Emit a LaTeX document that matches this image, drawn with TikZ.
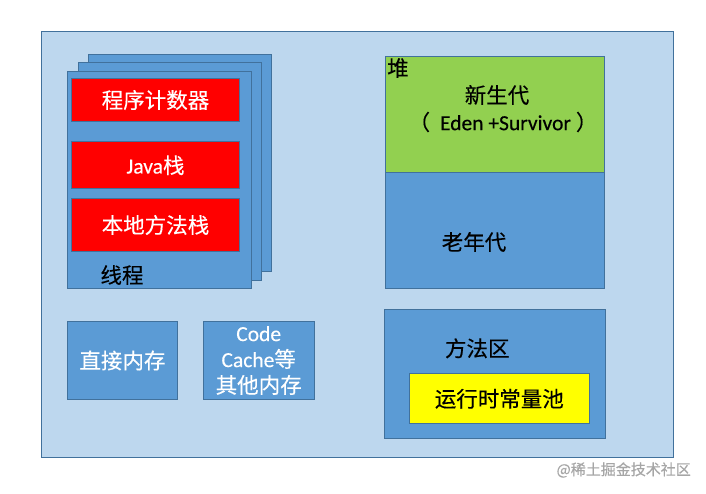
\documentclass[tikz,border=0pt]{standalone}
\usepackage{fontspec}
\setmainfont{Noto Sans CJK SC}[FakeBold=0.3]
\newfontfamily\lat{Carlito}[FakeBold=0.3]
\definecolor{jvmfill}{HTML}{BDD7EE}
\definecolor{boxblue}{HTML}{5B9BD5}
\definecolor{edgeblue}{HTML}{41719C}
\definecolor{younggreen}{HTML}{92D050}
\definecolor{poolyellow}{HTML}{FFFF00}
\definecolor{markgray}{HTML}{A6A6A6}
\tikzset{
  area/.style={draw=edgeblue, line width=0.8pt, inner sep=0pt},
  bluebox/.style={area, fill=boxblue},
  redbox/.style={area, fill=red, text=white, minimum width=168pt},
  txt/.style={inner sep=0pt, font=\fontsize{21.5}{26}\selectfont}
}
\begin{document}
\begin{tikzpicture}[x=1pt, y=-1pt]
            \useasboundingbox (0,0) rectangle (706,494);
            \node[area, fill=jvmfill, minimum width=632pt, minimum height=426pt] (jvm) at (357,244) {};

            % threads
            \node[bluebox, minimum width=183pt, minimum height=217pt] (thread3) at (179.5,162.5) {};
            \node[bluebox, minimum width=183pt, minimum height=218pt] (thread2) at (169.5,171) {};
            \node[bluebox, minimum width=184pt, minimum height=217pt] (thread1) at (159,179.5) {};
            \node[redbox, txt, minimum height=43pt] (pc) at (155.5,100) {程序计数器};
            \node[redbox, txt, minimum height=47pt] (jstack) at (155.5,165.3) {{\lat Java}栈};
            \node[redbox, txt, minimum height=53pt] (nstack) at (155.5,225) {本地方法栈};
            \node[txt] (threadname) at (122,275) {线程};

            % heap
            \node[area, fill=younggreen, minimum width=219pt, minimum height=116pt] (young) at (495,114) {};
            \node[bluebox, minimum width=219pt, minimum height=116pt] (old) at (495,230.3) {};
            \node[txt, anchor=north west] (heap) at (387,58) {堆};
            \node[txt] (youngname) at (497,95) {新生代};
            \node[txt] (eden) at (503,122) {（\hspace{10pt}{\lat Eden +Survivor}\hspace{5pt}）};
            \node[txt] (oldname) at (474,242) {老年代};

            % other memory
            \node[bluebox, txt, text=white, minimum width=110pt, minimum height=78pt] (direct) at (122.5,360.5) {直接内存};
            \node[bluebox, txt, text=white, align=center, minimum width=111pt, minimum height=78pt] (codecache) at (258.7,360.5) {{\lat Code}\\{\lat Cache}等\\其他内存};

            % method area
            \node[bluebox, minimum width=221pt, minimum height=129pt] (method) at (494.7,373.8) {};
            \node[txt] (methodname) at (477.3,348.3) {方法区};
            \node[area, txt, fill=poolyellow, minimum width=180pt, minimum height=50pt] (pool) at (499.3,398.8) {运行时常量池};

            \node[inner sep=0pt, text=markgray, font=\fontsize{15}{18}\selectfont, anchor=east] (mark) at (691,470) {@稀土掘金技术社区};
        \end{tikzpicture}
\end{document}
